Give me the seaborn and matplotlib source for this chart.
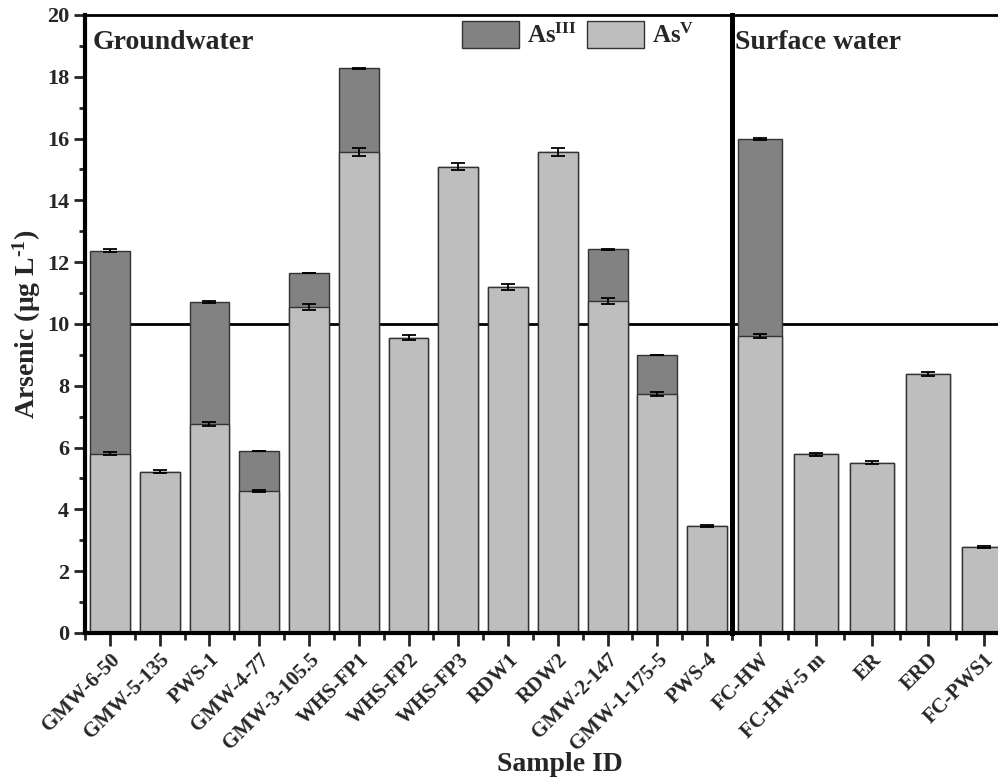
import matplotlib as mpl
import matplotlib.pyplot as plt
import numpy as np
import pandas as pd
import seaborn as sns
from matplotlib.patches import Patch

mpl.use("agg")
sns.set_theme()
sns.set_style("ticks")
plt.rcParams["font.family"] = ["Liberation Serif", "DejaVu Serif"]
plt.rcParams["font.weight"] = "bold"
plt.rcParams["mathtext.fontset"] = "custom"
plt.rcParams["mathtext.rm"] = "Liberation Serif:bold"
plt.rcParams["mathtext.it"] = "Liberation Serif:bold"
plt.rcParams["mathtext.bf"] = "Liberation Serif:bold"

# groundwater samples
gw_samples = ["GMW-6-50", "GMW-5-135", "PWS-1", "GMW-4-77", "GMW-3-105.5",
              "WHS-FP1", "WHS-FP2", "WHS-FP3", "RDW1", "RDW2", "GMW-2-147",
              "GMW-1-175-5", "PWS-4"]
gw_as5 = [5.80, 5.22, 6.77, 4.60, 10.55, 15.58, 9.56, 15.09, 11.20, 15.55, 10.74, 7.74, 3.45]
gw_as3 = [6.57, 0.0, 3.94, 1.29, 1.10, 2.70, 0.0, 0.0, 0.0, 0.0, 1.68, 1.26, 0.0]
gw_as5_err = [0.05, 0.04, 0.06, 0.03, 0.10, 0.13, 0.08, 0.12, 0.09, 0.13, 0.10, 0.06, 0.03]
gw_tot_err = [0.05, 0.0, 0.03, 0.01, 0.01, 0.02, 0.0, 0.0, 0.0, 0.0, 0.01, 0.01, 0.0]

# surface water samples
sw_samples = ["FC-HW", "FC-HW-5 m", "ER", "ERD", "FC-PWS1"]
sw_as5 = [9.61, 5.78, 5.51, 8.38, 2.78]
sw_as3 = [6.37, 0.0, 0.0, 0.0, 0.0]
sw_as5_err = [0.08, 0.05, 0.05, 0.07, 0.02]
sw_tot_err = [0.04, 0.0, 0.0, 0.0, 0.0]

limit = 10
dark = "#828282"
light = "#bebebe"
edge = "#333333"


def draw_panel(ax, samples, as5, as3, as5_err, tot_err, title):
    df = pd.DataFrame({"sample": samples, "as5": as5, "as3": as3})
    df["total"] = df["as5"] + df["as3"]

    sns.barplot(data=df, x="sample", y="total", color=dark, saturation=1,
                edgecolor=edge, linewidth=1, errorbar=None, width=0.8, ax=ax)
    sns.barplot(data=df, x="sample", y="as5", color=light, saturation=1,
                edgecolor=edge, linewidth=1, errorbar=None, width=0.8, ax=ax)

    pos = np.arange(len(samples))
    ax.errorbar(pos, df["as5"], yerr=as5_err, fmt="none", ecolor="black",
                elinewidth=1.3, capsize=5, capthick=1.3, zorder=5)
    has3 = df["as3"] > 0
    ax.errorbar(pos[has3], df["total"][has3], yerr=np.array(tot_err)[has3],
                fmt="none", ecolor="black", elinewidth=1.3, capsize=5,
                capthick=1.3, zorder=5)

    ax.axhline(limit, color="black", lw=2, zorder=0)
    ax.set_ylim(0, 20)
    ax.set_xlabel("")
    ax.set_ylabel("")
    ax.set_xticks(pos)
    ax.set_xticklabels(samples, rotation=45, ha="right", rotation_mode="anchor",
                       fontsize=15, fontweight="bold")
    ax.set_xticks(np.arange(-0.5, len(samples), 1), minor=True)
    ax.tick_params(axis="x", which="major", length=9, width=2, direction="out", pad=3)
    ax.tick_params(axis="x", which="minor", length=5, width=2, direction="out")
    ax.text(0.012, 0.975, title, transform=ax.transAxes, ha="left", va="top",
            fontsize=20, fontweight="bold")
    for s in ax.spines.values():
        s.set_linewidth(2)
        s.set_color("black")


fig = plt.figure(figsize=(9.98, 7.8), dpi=100)
ax1 = fig.add_axes([0.0852, 0.1885, 0.6483, 0.7923])
ax2 = fig.add_axes([0.7335, 0.1885, 0.2665, 0.7923])
ax2.patch.set_alpha(0)

draw_panel(ax1, gw_samples, gw_as5, gw_as3, gw_as5_err, gw_tot_err, "Groundwater")
draw_panel(ax2, sw_samples, sw_as5, sw_as3, sw_as5_err, sw_tot_err, "Surface water")

ax1.set_xlim(-0.5, len(gw_samples) - 0.5)
ax2.set_xlim(-0.5, len(sw_samples) - 0.75)

ax1.set_yticks(np.arange(0, 21, 2))
ax1.set_yticks(np.arange(1, 20, 2), minor=True)
ax1.tick_params(axis="y", which="major", length=8, width=2, direction="out",
                labelsize=16)
ax1.tick_params(axis="y", which="minor", length=4, width=2, direction="out")
for lab in ax1.get_yticklabels():
    lab.set_fontweight("bold")
ax1.spines["left"].set_linewidth(3)
ax1.spines["right"].set_linewidth(3.5)
ax1.spines["bottom"].set_linewidth(3)

ax2.set_yticks([])
ax2.spines["left"].set_linewidth(3.5)
ax2.spines["right"].set_visible(False)
ax2.spines["bottom"].set_linewidth(3)

ax1.set_ylabel(r"Arsenic (μg L$^{\text{-1}}$)", fontsize=20, fontweight="bold",
               labelpad=3)
fig.text(0.561, 0.004, "Sample ID", ha="center", va="bottom", fontsize=20,
         fontweight="bold")

handles = [Patch(facecolor=dark, edgecolor=edge, label="As$^{III}$"),
           Patch(facecolor=light, edgecolor=edge, label="As$^{V}$")]
ax1.legend(handles=handles, loc="upper left", bbox_to_anchor=(0.567, 1.006),
           ncol=2, frameon=False, fontsize=18, handlelength=2.3,
           handleheight=1.25, columnspacing=0.4, handletextpad=0.3,
           borderaxespad=0.0)

plt.savefig("out.png", dpi=100)
plt.clf()
